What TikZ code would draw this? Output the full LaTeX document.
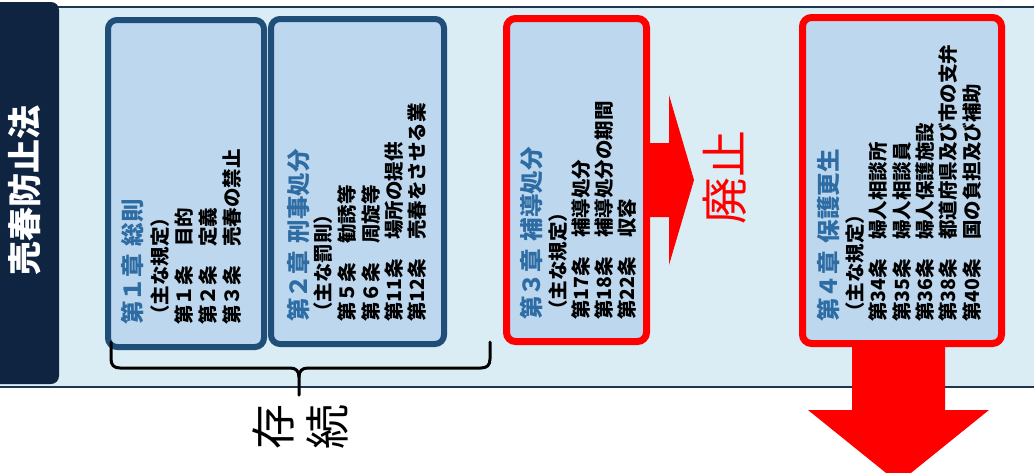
\documentclass[tikz,border=0pt]{standalone}
\usepackage{fontspec}
\newfontfamily\jp{Noto Sans CJK JP}
\definecolor{bandfill}{HTML}{DAEDF5}
\definecolor{bandline}{HTML}{1F3550}
\definecolor{boxfill}{HTML}{BDD7EE}
\definecolor{navy}{HTML}{1F4E79}
\definecolor{tabfill}{HTML}{0F2441}
\definecolor{ttlblue}{HTML}{2E6CA4}
\definecolor{abol}{HTML}{FF0000}
\tikzset{
  chapbox/.style={draw=navy, line width=6pt, fill=boxfill, rounded corners=9pt, inner sep=0pt},
  redbox/.style={draw=abol, line width=7pt, fill=boxfill, rounded corners=9pt, inner sep=0pt},
  ln/.style={rotate=90, anchor=west, inner sep=0pt, text height=17.2pt, text depth=2.3pt,
    font=\jp\bfseries\fontsize{19.5}{20}\selectfont},
  ttl/.style={ln, text height=20.7pt, text depth=2.8pt, text=ttlblue,
    font=\jp\bfseries\fontsize{23.5}{24}\selectfont},
  bigred/.style={rotate=90, inner sep=0pt, text=abol, font=\jp\fontsize{47}{48}\selectfont},
  bigblk/.style={rotate=90, inner sep=0pt, text=black, font=\jp\fontsize{45}{46}\selectfont},
}
\begin{document}
\begin{tikzpicture}[x=1pt,y=-1pt]
\useasboundingbox (0,0) rectangle (1034,472);
\fill[white] (0,0) rectangle (1034,472);
% band
\fill[bandfill] (0,7) rectangle (1034,387);
\draw[bandline, line width=1.5pt] (0,7) -- (1034,7);
\draw[bandline, line width=1.5pt] (0,387) -- (1034,387);
% tab
\fill[tabfill, rounded corners=8pt] (-12,2) rectangle (59,384);
\node[rotate=90, inner sep=0pt, text=white, font=\jp\bfseries\fontsize{34}{35}\selectfont] (law) at (25,190) {売春防止法};
% arrows
\fill[abol] (640,143) -- (669,143) -- (669,95) -- (694,180) -- (669,265) -- (669,217) -- (640,217) -- cycle;
\fill[abol] (852,335) -- (945,335) -- (945,410) -- (989,410) -- (898.5,483) -- (808,410) -- (852,410) -- cycle;
% boxes
\node[chapbox, minimum width=156pt, minimum height=327pt] (c1) at (186,183.5) {};
\node[chapbox, minimum width=173pt, minimum height=325pt] (c2) at (357.5,181.5) {};
\node[redbox, minimum width=140pt, minimum height=323pt] (c3) at (576.5,180) {};
\node[redbox, minimum width=199pt, minimum height=326pt] (c4) at (902,180.5) {};
% box 1 text
\node[ttl] (a1) at (133,325) {第１章\hspace{0.35em}総則};
\node[ln] (a2) at (160,325) {（主な規定）};
\node[ln] (a3) at (184,325) {第１条　目的};
\node[ln] (a4) at (208,325) {第２条　定義};
\node[ln] (a5) at (232,325) {第３条　売春の禁止};
% box 2 text
\node[ttl] (b1) at (299,322) {第２章\hspace{0.35em}刑事処分};
\node[ln] (b2) at (323,322) {（主な罰則）};
\node[ln] (b3) at (347,322) {第５条　勧誘等};
\node[ln] (b4) at (371,322) {第６条　周旋等};
\node[ln] (b5) at (394,322) {第11条　場所の提供};
\node[ln] (b6) at (417,322) {第12条　売春をさせる業};
% box 3 text
\node[ttl] (d1) at (532,320) {第３章\hspace{0.35em}補導処分};
\node[ln] (d2) at (558,320) {（主な規定）};
\node[ln] (d3) at (581,320) {第17条　補導処分};
\node[ln] (d4) at (604,320) {第18条　補導処分の期間};
\node[ln] (d5) at (627,320) {第22条　収容};
% box 4 text
\node[ttl] (e1) at (829,322) {第４章\hspace{0.35em}保護更生};
\node[ln] (e2) at (855,322) {（主な規定）};
\node[ln] (e3) at (878,322) {第34条　婦人相談所};
\node[ln] (e4) at (902,322) {第35条　婦人相談員};
\node[ln] (e5) at (925,322) {第36条　婦人保護施設};
\node[ln] (e6) at (948,322) {第38条　都道府県及び市の支弁};
\node[ln] (e7) at (972,322) {第40条　国の負担及び補助};
% labels
\node[bigred] (hai) at (725,177) {廃止};
\node[bigblk] (son) at (273,427) {存};
\node[bigblk] (zoku) at (327,427) {続};
% brace
\draw[black, line width=3pt, line cap=round, line join=round]
  (111,342) -- (111,359) .. controls (111,365) and (114,368) .. (120,368) -- (290,368)
  .. controls (296,368) and (299,371) .. (299,377) -- (299,395);
\draw[black, line width=3pt, line cap=round, line join=round]
  (299,377) .. controls (299,371) and (302,368) .. (308,368) -- (481,368)
  .. controls (487,368) and (490,365) .. (490,359) -- (490,342);
\end{tikzpicture}
\end{document}
